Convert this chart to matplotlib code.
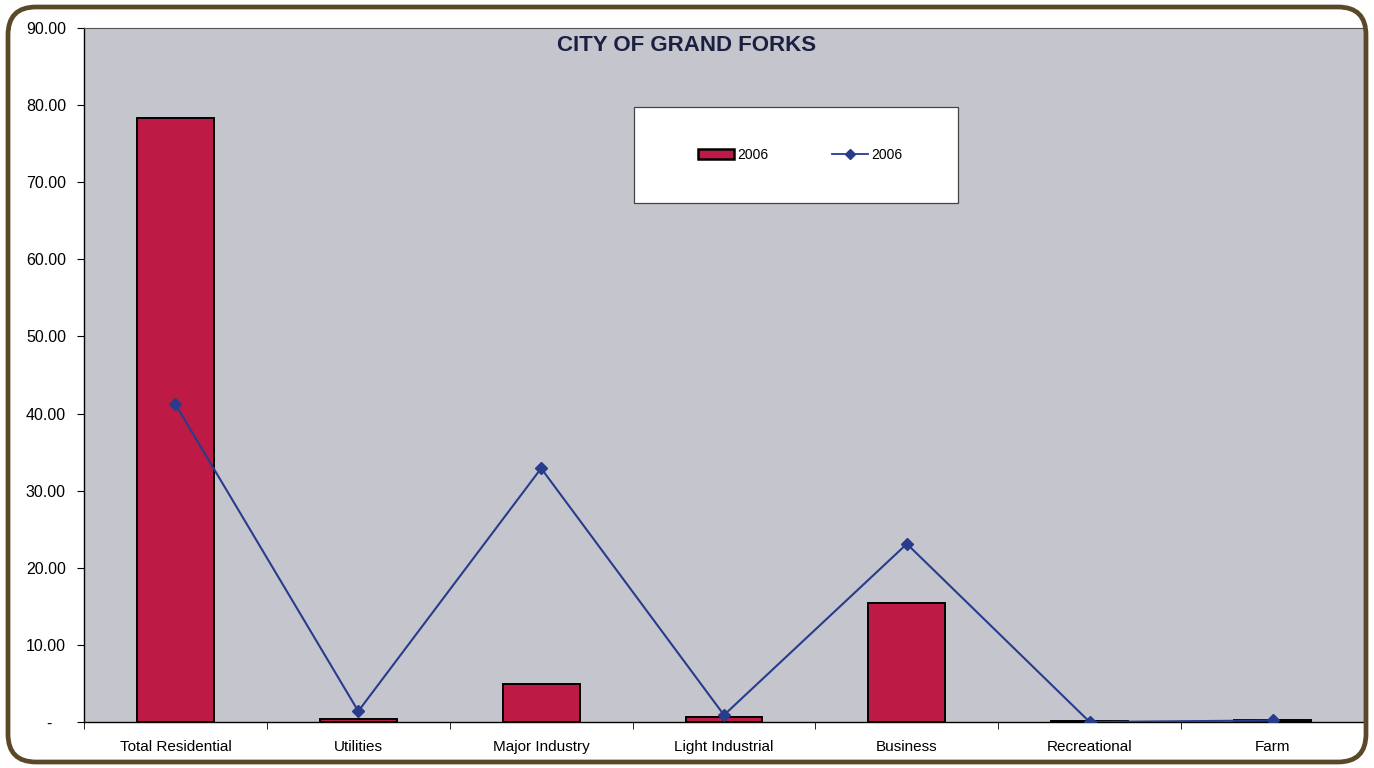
import matplotlib.pyplot as plt
from matplotlib.patches import FancyBboxPatch, Rectangle, Patch
from matplotlib.lines import Line2D
from matplotlib.ticker import FuncFormatter, MultipleLocator
import numpy as np

# -------------------------
# Data
# -------------------------
categories = ["Total Residential", "Utilities", "Major Industry", "Light Industrial",
              "Business", "Recreational", "Farm"]
bar_values = [78.3, 0.4, 4.9, 0.6, 15.4, 0.1, 0.2]
line_values = [41.2, 1.4, 32.9, 0.9, 23.1, 0.0, 0.2]
series_label = "2006"
title = "CITY OF GRAND FORKS"

BAR_COLOR = "#bd1a45"
LINE_COLOR = "#283c8c"
PLOT_BG = "#c5c5cd"
BORDER = "#5a4828"

plt.rcParams["font.family"] = ["Liberation Sans", "DejaVu Sans"]

fig = plt.figure(figsize=(13.74, 7.68), dpi=100)
fig.patch.set_facecolor("white")

# rounded outer frame, in pixels
frame = FancyBboxPatch((8, 6), 1358, 755, boxstyle="round,pad=0,rounding_size=28",
                       transform=None, facecolor="none", edgecolor=BORDER, linewidth=3.4)
fig.add_artist(frame)

ax = fig.add_axes([84 / 1374, 46 / 768, 1280 / 1374, 694 / 768])
ax.set_facecolor(PLOT_BG)

x = np.arange(len(categories))
ax.bar(x, bar_values, width=0.42, color=BAR_COLOR, edgecolor="black", linewidth=1.4, zorder=2)
ax.plot(x, line_values, color=LINE_COLOR, linewidth=1.5, marker="D", markersize=6, zorder=3)

ax.set_xlim(-0.5, len(categories) - 0.5)
ax.set_ylim(0, 90)
ax.yaxis.set_major_locator(MultipleLocator(10))
ax.yaxis.set_major_formatter(FuncFormatter(lambda v, _: "-   " if abs(v) < 1e-9 else f"{v:.2f}"))
ax.set_xticks(x)
ax.set_xticklabels(categories)
ax.set_xticks(np.arange(-0.5, len(categories), 1.0), minor=True)
ax.tick_params(axis="x", which="major", length=0, pad=13, labelsize=11)
ax.tick_params(axis="x", which="minor", length=5, direction="out", color="black")
ax.tick_params(axis="y", length=5, direction="out", labelsize=11.5, pad=8)

for side in ["left", "bottom"]:
    ax.spines[side].set_color("black")
    ax.spines[side].set_linewidth(1.0)
for side in ["top", "right"]:
    ax.spines[side].set_color("#555555")
    ax.spines[side].set_linewidth(0.8)

ax.text(0.4705, 0.9755, title, transform=ax.transAxes, ha="center", va="center",
        fontsize=16, fontweight="bold", color="#1a2040")

# legend box
box = Rectangle((634 / 1374, 1 - 203 / 768), 324 / 1374, 96 / 768, transform=fig.transFigure,
                facecolor="white", edgecolor="#444444", linewidth=0.9, zorder=4)
fig.add_artist(box)
handles = [Patch(facecolor=BAR_COLOR, edgecolor="black", linewidth=1.8),
           Line2D([0], [0], color=LINE_COLOR, linewidth=1.3, marker="D", markersize=5)]
fig.legend(handles, [series_label, series_label], loc="center",
           bbox_to_anchor=(800 / 1374, 1 - 155 / 768), ncol=2, frameon=False,
           fontsize=10, handlelength=2.6, handleheight=0.8, handletextpad=0.2,
           columnspacing=4.6)

fig.savefig("out.png", dpi=100)
